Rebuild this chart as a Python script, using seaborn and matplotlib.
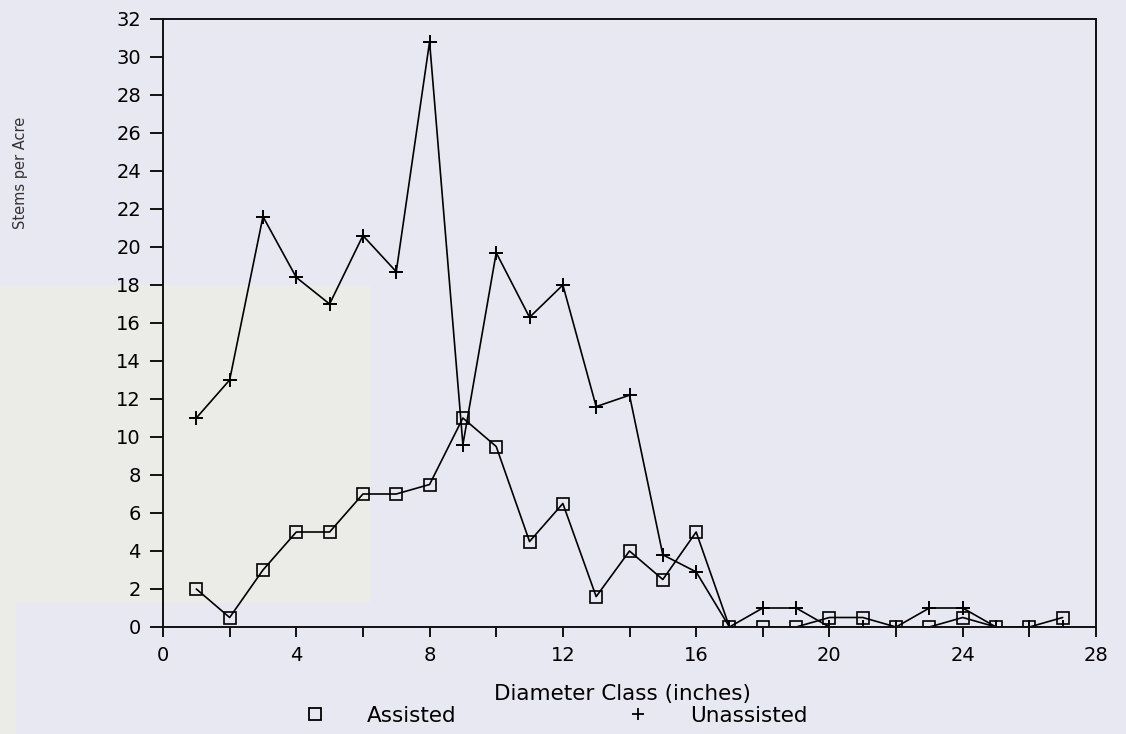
import matplotlib
matplotlib.use("Agg")
import matplotlib.pyplot as plt
import pandas as pd
import seaborn as sns
from matplotlib.lines import Line2D
from matplotlib.patches import Rectangle

# Stems per acre by one-inch diameter class
diameter_class = list(range(1, 28))
assisted = [2.0, 0.5, 3.0, 5.0, 5.0, 7.0, 7.0, 7.5, 11.0, 9.5, 4.5, 6.5, 1.6, 4.0,
            2.5, 5.0, 0.0, 0.0, 0.0, 0.5, 0.5, 0.0, 0.0, 0.5, 0.0, 0.0, 0.5]
unassisted = [11.0, 13.0, 21.6, 18.4, 17.0, 20.6, 18.7, 30.8, 9.6, 19.7, 16.3, 18.0,
              11.6, 12.2, 3.8, 2.9, 0.0, 1.0, 1.0, 0.0, 0.0, 0.0, 1.0, 1.0, 0.0, 0.0, 0.0]
series_names = ["Assisted", "Unassisted"]
x_ticks = list(range(0, 29, 2))
x_labels = [str(t) if t % 4 == 0 else "" for t in x_ticks]
y_ticks = list(range(0, 33, 2))

df = pd.DataFrame({"diameter": diameter_class,
                   "Assisted": assisted,
                   "Unassisted": unassisted})

sns.set_theme(style="ticks")
plt.rcParams["font.family"] = ["DejaVu Sans"]
plt.rcParams["text.color"] = "black"

W, H = 1126, 734
page = "#e8e8f2"
paper_grey = "#ebebe8"
fig = plt.figure(figsize=(W / 100, H / 100), dpi=100, facecolor=page)
# faint greyish band of the paper, kept behind the axes
fig.patches.append(Rectangle((0, 1 - 603 / H), 370 / W, (603 - 285) / H,
                             transform=fig.transFigure, facecolor=paper_grey,
                             edgecolor="none", zorder=-5))
fig.patches.append(Rectangle((0, 0), 16 / W, 1 - 285 / H,
                             transform=fig.transFigure, facecolor=paper_grey,
                             edgecolor="none", zorder=-5))

ax = fig.add_axes([163 / W, 1 - 627 / H, (1096 - 163) / W, (627 - 19) / H])
ax.set_facecolor("none")
ax.set_zorder(1)

sns.lineplot(data=df, x="diameter", y="Assisted", ax=ax, color="black", lw=1.2,
             marker="s", markersize=8.8, markerfacecolor="none",
             markeredgecolor="black", markeredgewidth=1.2, legend=False)
sns.lineplot(data=df, x="diameter", y="Unassisted", ax=ax, color="black", lw=1.2,
             marker="+", markersize=10, markeredgecolor="black",
             markeredgewidth=1.4, legend=False)

ax.set_xlim(0, 28)
ax.set_ylim(0, 32)
ax.set_xticks(x_ticks)
ax.set_xticklabels(x_labels)
ax.set_yticks(y_ticks)
ax.tick_params(axis="both", colors="black", labelsize=14, width=1.3, direction="out")
ax.tick_params(axis="y", length=9.4, pad=6.5)
ax.tick_params(axis="x", length=7.2, pad=6.5)
for s in ax.spines.values():
    s.set_visible(True)
    s.set_color("#111111")
    s.set_linewidth(1.4)

ax.set_xlabel("Diameter Class (inches)", fontsize=15.5, color="black")
ax.xaxis.set_label_coords((622 - 163) / 933, (627 - 684) / 608)
ax.set_ylabel("Stems per Acre", fontsize=10.5, color="#333333")
ax.yaxis.set_label_coords((28 - 163) / 933, (627 - 173) / 608)

handles = [
    Line2D([], [], linestyle="none", marker="s", markersize=8.5,
           markerfacecolor="none", markeredgecolor="black", markeredgewidth=1.3),
    Line2D([], [], linestyle="none", marker="+", markersize=9,
           markeredgecolor="black", markeredgewidth=1.3),
]
fig.legend(handles, series_names, loc="center left", ncol=2, frameon=False,
           bbox_to_anchor=(304 / W, 1 - 716 / H), fontsize=15.5,
           labelcolor="black", handlelength=1.0, handletextpad=1.93,
           columnspacing=7.9, borderpad=0, borderaxespad=0)

fig.savefig("out.png", dpi=100, facecolor=page)
